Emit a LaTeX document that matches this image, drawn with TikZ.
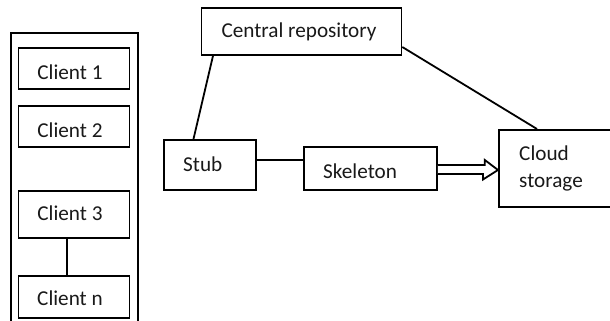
\documentclass[tikz,border=0pt]{standalone}
\usepackage{fontspec}
\setmainfont{Carlito}
\tikzset{
  box/.style={draw=black,line width=1.8pt,rectangle,inner sep=0pt,anchor=north west},
  lbl/.style={inner sep=0pt,font=\fontsize{21.2pt}{25pt}\selectfont,text=black!90},
  link/.style={draw=black,line width=1.8pt}
}
\begin{document}
\begin{tikzpicture}[x=1pt,y=-1pt]
\useasboundingbox (0,0) rectangle (610,321);
\clip (0,0) rectangle (610,321);
% outer frame, open at the bottom
\coordinate (ot) at (11,33);
\coordinate (otr) at (138,33);
\coordinate (ob) at (11,322);
\coordinate (obr) at (138,322);
\draw[link] (ob) -- (ot) -- (otr) -- (obr);
% clients
\node[box,minimum width=111pt,minimum height=41pt] (c1) at (17.5,47) {};
\node[box,minimum width=111pt,minimum height=41pt] (c2) at (17.5,105) {};
\node[box,minimum width=111pt,minimum height=47pt] (c3) at (17.5,190) {};
\node[box,minimum width=111pt,minimum height=42pt] (cn) at (17.5,275) {};
\node[lbl] (t1) at (70,72) {Client 1};
\node[lbl] (t2) at (70,130) {Client 2};
\node[lbl] (t3) at (70,213) {Client 3};
\node[lbl] (tn) at (70,298) {Client n};
\draw[link] ([xshift=49.5pt]c3.south west) -- ([xshift=49.5pt]cn.north west);
% right part
\node[box,minimum width=200pt,minimum height=47pt] (cr) at (200.5,7) {};
\node[box,minimum width=92pt,minimum height=50pt] (st) at (163,139) {};
\node[box,minimum width=133pt,minimum height=43pt] (sk) at (303,146) {};
\node[box,minimum width=120pt,minimum height=77pt] (cs) at (498,129) {};
\node[lbl] (tcr) at (299,32) {Central repository};
\node[lbl,anchor=west] (tst) at (183,164) {Stub};
\node[lbl,anchor=west] (tsk) at (323,171) {Skeleton};
\node[lbl,anchor=west] (tc1) at (519,153) {Cloud};
\node[lbl,anchor=west] (tc2) at (519,183) {storage};
\draw[link] ([xshift=12.5pt]cr.south west) -- ([xshift=30.5pt]st.north west);
\draw[link] ([yshift=-40pt]cr.north east) -- ([xshift=39pt]cs.north west);
\draw[link] ([yshift=-21pt]st.north east) -- ([yshift=-14pt]sk.north west);
% hollow double arrow
\draw[link,fill=white] ([yshift=-19pt]sk.north east) -- ++(47,0) -- ++(0,-5) -- ([yshift=-41pt]cs.north west)
  -- ++(-15,9.5) -- ++(0,-5.5) -- ([yshift=-28pt]sk.north east);
\end{tikzpicture}
\end{document}
